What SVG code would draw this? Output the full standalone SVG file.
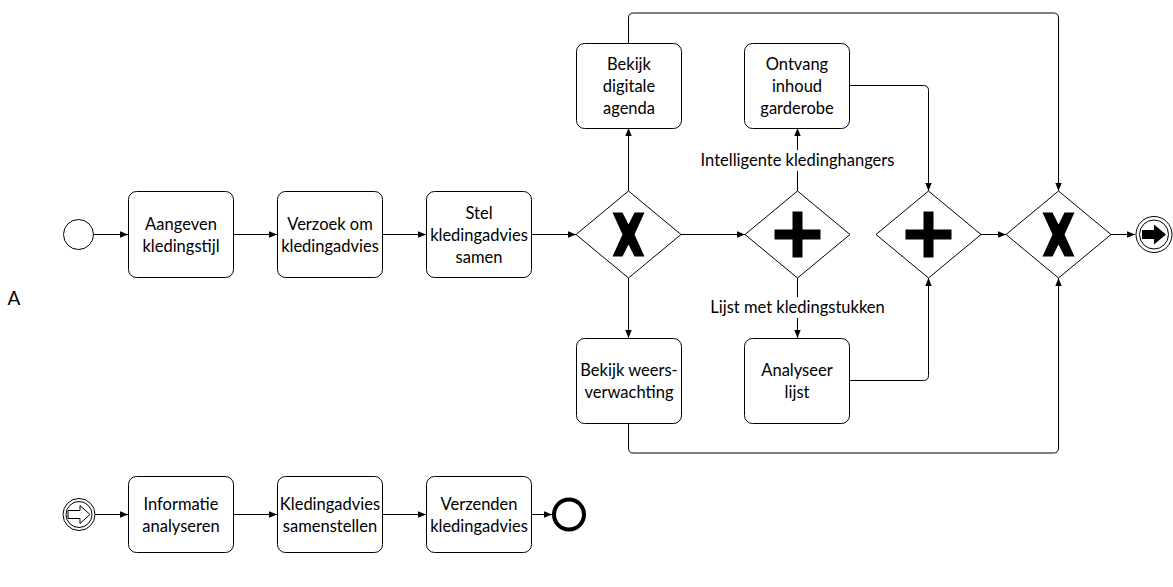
<svg xmlns="http://www.w3.org/2000/svg" width="1173" height="587" viewBox="0 0 1173 587">
<defs>
<style>
.task{fill:#fff;stroke:#000;stroke-width:1}
.gw{fill:#fff;stroke:#000;stroke-width:1}
.ev{fill:#fff;stroke:#000;stroke-width:1}
.con{fill:none;stroke:#000;stroke-width:1}
text{font-family:Lato,"Liberation Sans",sans-serif;font-size:16.5px;fill:#000;text-anchor:middle}
</style>
<marker id="arr" viewBox="0 0 10 10" refX="10" refY="5" markerWidth="8" markerHeight="8" markerUnits="userSpaceOnUse" orient="auto">
<path d="M0,1 L10,5 L0,9 z" fill="#000"/>
</marker>
<path id="xm" d="M-16,-22 L-6,-22 L0,-10 L6,-22 L16,-22 L6,0 L16,22 L6,22 L0,10 L-6,22 L-16,22 L-6,0 z" fill="#000"/>
<path id="pm" d="M-5,-23 L5,-23 L5,-5 L23,-5 L23,5 L5,5 L5,23 L-5,23 L-5,5 L-23,5 L-23,-5 L-5,-5 z" fill="#000"/>
</defs>
<rect width="1173" height="587" fill="#fff"/>
<text x="14" y="305" style="font-size:19px">A</text>

<g id="connectors">
<path class="con" d="M93,234.5 H128" marker-end="url(#arr)"/>
<path class="con" d="M234,234.5 H277" marker-end="url(#arr)"/>
<path class="con" d="M383,234.5 H426" marker-end="url(#arr)"/>
<path class="con" d="M532,234.5 H576" marker-end="url(#arr)"/>
<path class="con" d="M681,234.5 H745" marker-end="url(#arr)"/>
<path class="con" d="M980,234.5 H1006" marker-end="url(#arr)"/>
<path class="con" d="M1111,234.5 H1135" marker-end="url(#arr)"/>
<path class="con" d="M628.5,191 V128" marker-end="url(#arr)"/>
<path class="con" d="M628.5,278 V338" marker-end="url(#arr)"/>
<path class="con" d="M628.5,43 V18 Q628.5,13 633.5,13 H1053.5 Q1058.5,13 1058.5,18 V191" marker-end="url(#arr)"/>
<path class="con" d="M628.5,423 V448 Q628.5,453 633.5,453 H1053.5 Q1058.5,453 1058.5,448 V278" marker-end="url(#arr)"/>
<path class="con" d="M797.5,191 V128" marker-end="url(#arr)"/>
<path class="con" d="M797.5,278 V338" marker-end="url(#arr)"/>
<path class="con" d="M849,85.5 H923.5 Q928.5,85.5 928.5,90.5 V191" marker-end="url(#arr)"/>
<path class="con" d="M849,380.5 H923.5 Q928.5,380.5 928.5,375.5 V278" marker-end="url(#arr)"/>
<rect x="695" y="150" width="205" height="21" fill="#fff"/>
<text x="797.5" y="166">Intelligente kledinghangers</text>
<rect x="700" y="297" width="195" height="21" fill="#fff"/>
<text x="797.5" y="313">Lijst met kledingstukken</text>
<path class="con" d="M95,514.5 H128" marker-end="url(#arr)"/>
<path class="con" d="M234,514.5 H277" marker-end="url(#arr)"/>
<path class="con" d="M383,514.5 H426" marker-end="url(#arr)"/>
<path class="con" d="M532,514.5 H552" marker-end="url(#arr)"/>
</g>

<g id="start1"><circle class="ev" cx="78.5" cy="234.5" r="15"/></g>
<g id="t1"><rect class="task" x="128.5" y="191.5" width="105" height="86" rx="8"/><text x="181" y="229.5">Aangeven</text><text x="181" y="251.5">kledingstijl</text></g>
<g id="t2"><rect class="task" x="277.5" y="191.5" width="105" height="86" rx="8"/><text x="330" y="229.5">Verzoek om</text><text x="330" y="251.5">kledingadvies</text></g>
<g id="t3"><rect class="task" x="426.5" y="191.5" width="105" height="86" rx="8"/><text x="479" y="218.5">Stel</text><text x="479" y="240.5">kledingadvies</text><text x="479" y="262.5">samen</text></g>
<g id="gx1"><path class="gw" d="M576,234.5 L628.5,191 L681,234.5 L628.5,278 z"/><use href="#xm" x="628.5" y="234.5"/></g>
<g id="ta"><rect class="task" x="576.5" y="43.5" width="105" height="85" rx="8"/><text x="629" y="70">Bekijk</text><text x="629" y="92">digitale</text><text x="629" y="114">agenda</text></g>
<g id="tw"><rect class="task" x="576.5" y="338.5" width="105" height="85" rx="8"/><text x="629" y="376">Bekijk weers-</text><text x="629" y="398">verwachting</text></g>
<g id="gp1"><path class="gw" d="M745,234.5 L797.5,191 L850,234.5 L797.5,278 z"/><use href="#pm" x="797.5" y="234.5"/></g>
<g id="to"><rect class="task" x="744.5" y="43.5" width="105" height="85" rx="8"/><text x="797" y="70">Ontvang</text><text x="797" y="92">inhoud</text><text x="797" y="114">garderobe</text></g>
<g id="tl"><rect class="task" x="744.5" y="338.5" width="105" height="85" rx="8"/><text x="797" y="376">Analyseer</text><text x="797" y="398">lijst</text></g>
<g id="gp2"><path class="gw" d="M876,234.5 L928.5,191 L981,234.5 L928.5,278 z"/><use href="#pm" x="928.5" y="234.5"/></g>
<g id="gx2"><path class="gw" d="M1006,234.5 L1058.5,191 L1111,234.5 L1058.5,278 z"/><use href="#xm" x="1058.5" y="234.5"/></g>
<g id="end1"><circle class="ev" cx="1154" cy="234.5" r="18"/><circle class="ev" cx="1154" cy="234.5" r="14.5"/><path d="M1142,230 H1154 V224.5 L1166,234.5 L1154,244.5 V239 H1142 z" fill="#000"/></g>

<g id="start2"><circle class="ev" cx="79" cy="514.5" r="16"/><circle class="ev" cx="79" cy="514.5" r="13"/><path d="M68,510.5 H80 V505.5 L90,514.5 L80,523.5 V518.5 H68 z" fill="#fff" stroke="#000" stroke-width="1"/></g>
<g id="b1"><rect class="task" x="128.5" y="476.5" width="105" height="76" rx="8"/><text x="181" y="509.5">Informatie</text><text x="181" y="531.5">analyseren</text></g>
<g id="b2"><rect class="task" x="277.5" y="476.5" width="105" height="76" rx="8"/><text x="330" y="509.5">Kledingadvies</text><text x="330" y="531.5">samenstellen</text></g>
<g id="b3"><rect class="task" x="426.5" y="476.5" width="105" height="76" rx="8"/><text x="479" y="509.5">Verzenden</text><text x="479" y="531.5">kledingadvies</text></g>
<g id="end2"><circle cx="569" cy="514.5" r="15" fill="#fff" stroke="#000" stroke-width="4"/></g>
</svg>
